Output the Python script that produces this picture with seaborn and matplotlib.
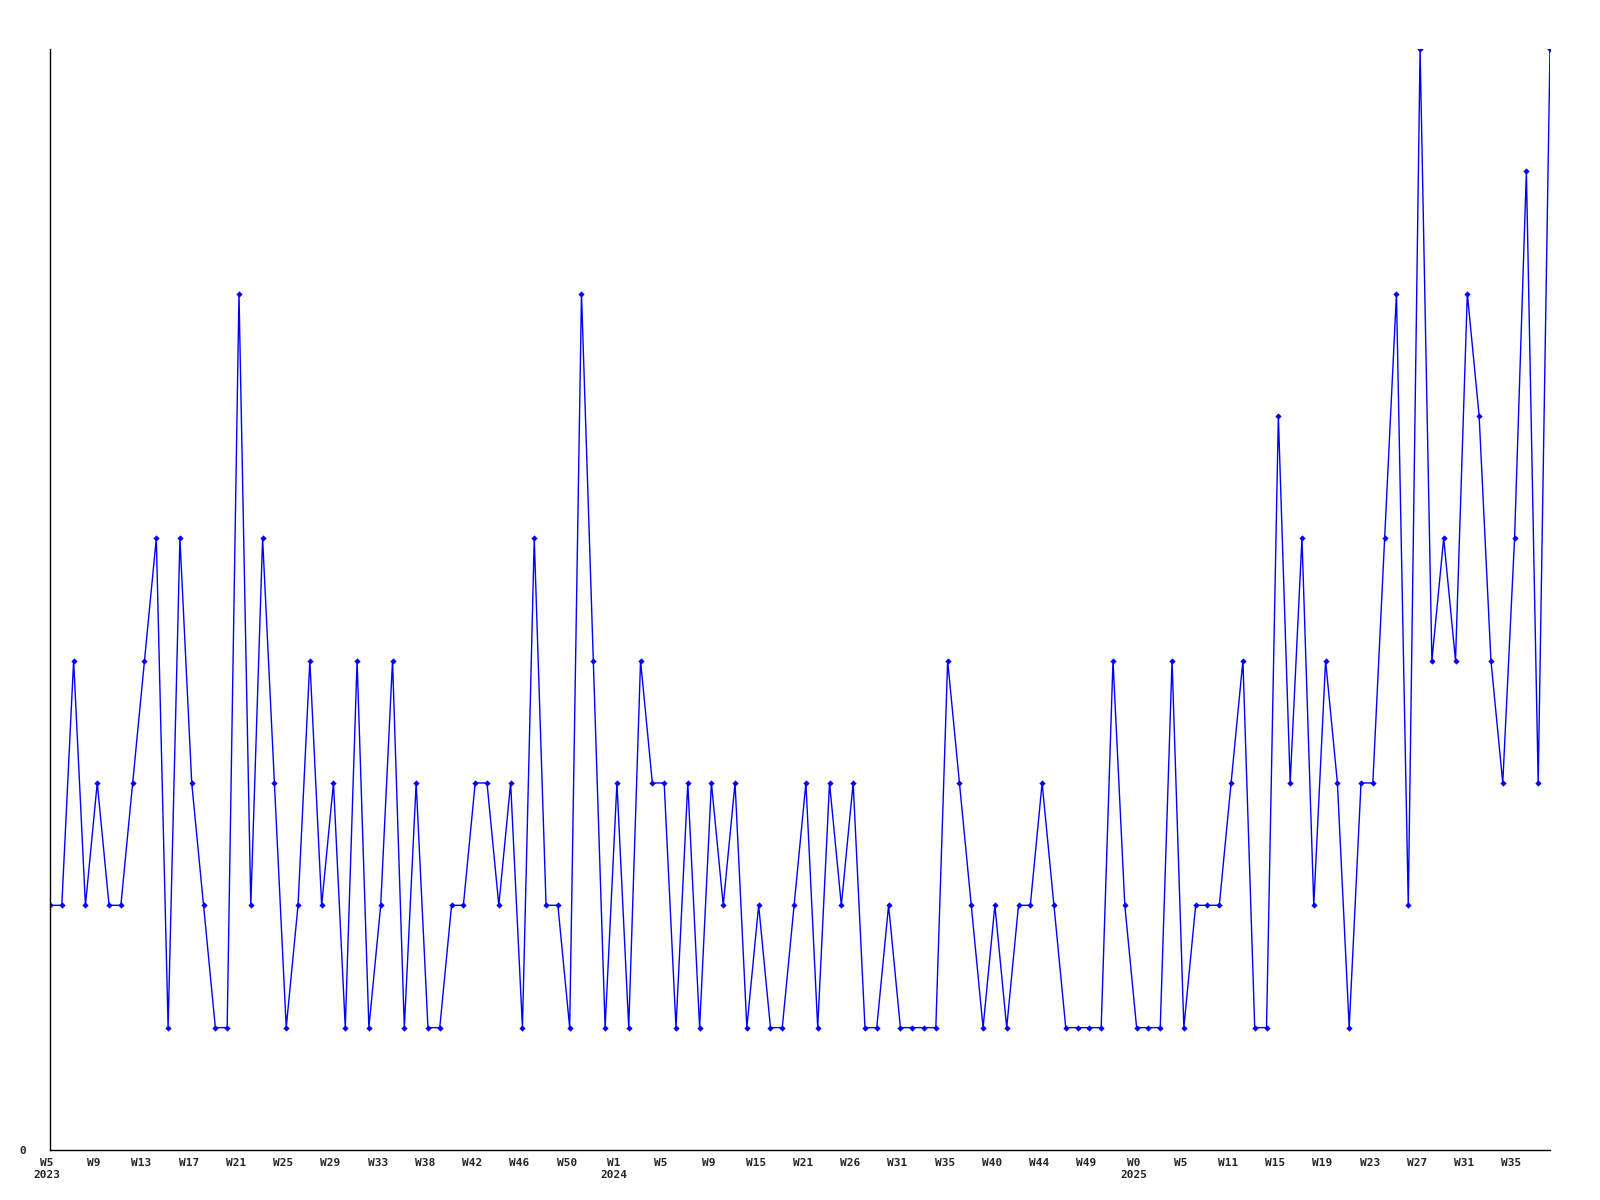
import numpy as np
import pandas as pd
import matplotlib
matplotlib.use("Agg")
import matplotlib.pyplot as plt
import matplotlib.transforms as mtransforms
import seaborn as sns

# weekly counts
counts = [
    2, 2, 4, 2, 3, 2, 2, 3, 4, 5, 1, 5, 3, 2, 1, 1, 7, 2, 5, 3,
    1, 2, 4, 2, 3, 1, 4, 1, 2, 4, 1, 3, 1, 1, 2, 2, 3, 3, 2, 3,
    1, 5, 2, 2, 1, 7, 4, 1, 3, 1, 4, 3, 3, 1, 3, 1, 3, 2, 3, 1,
    2, 1, 1, 2, 3, 1, 3, 2, 3, 1, 1, 2, 1, 1, 1, 1, 4, 3, 2, 1,
    2, 1, 2, 2, 3, 2, 1, 1, 1, 1, 4, 2, 1, 1, 1, 4, 1, 2, 2, 2,
    3, 4, 1, 1, 6, 3, 5, 2, 4, 3, 1, 3, 3, 5, 7, 2, 9, 4, 5, 4,
    7, 6, 4, 3, 5, 8, 3, 9,
]

# one label every 4 weeks
week_labels = [
    "W5", "W9", "W13", "W17", "W21", "W25", "W29", "W33", "W38", "W42",
    "W46", "W50", "W1", "W5", "W9", "W15", "W21", "W26", "W31", "W35",
    "W40", "W44", "W49", "W0", "W5", "W11", "W15", "W19", "W23", "W27",
    "W31", "W35",
]
year_labels = {0: "2023", 12: "2024", 23: "2025"}

df = pd.DataFrame({"week": np.arange(len(counts)), "count": counts})

sns.set_style("white")
plt.rcParams["font.family"] = ["DejaVu Sans Mono"]

fig = plt.figure(figsize=(16, 12), dpi=100)
ax = fig.add_axes([0.03125, 0.0417, 0.9375, 0.9175])

sns.lineplot(data=df, x="week", y="count", ax=ax, color="#0000ff",
             linewidth=1.0, marker="D", markersize=3.2,
             markeredgewidth=0, estimator=None)

ax.set_xlim(0, len(counts) - 1)
ax.set_ylim(0, 9)

tick_pos = df["week"].iloc[::4].values
labels = []
for i, w in enumerate(week_labels):
    if i in year_labels:
        labels.append(w + "\n" + year_labels[i])
    else:
        labels.append(w)
ax.set_xticks(tick_pos)
ax.set_xticklabels(labels, fontsize=8, fontweight="bold", linespacing=1.2)
ax.set_yticks([0])
ax.set_yticklabels(["0"], fontsize=8, fontweight="bold")

ax.tick_params(axis="x", length=0, pad=6)
ax.tick_params(axis="y", length=0, pad=17)
ax.set_xlabel("")
ax.set_ylabel("")

# week labels sit a few pixels left of their point in the original
shift = mtransforms.ScaledTranslation(-3 / 100, 0, fig.dpi_scale_trans)
for lbl in ax.get_xticklabels():
    lbl.set_transform(lbl.get_transform() + shift)

for side in ["top", "right"]:
    ax.spines[side].set_visible(False)
for side in ["left", "bottom"]:
    ax.spines[side].set_color("black")
    ax.spines[side].set_linewidth(1.0)

fig.savefig("out.png", dpi=100)
